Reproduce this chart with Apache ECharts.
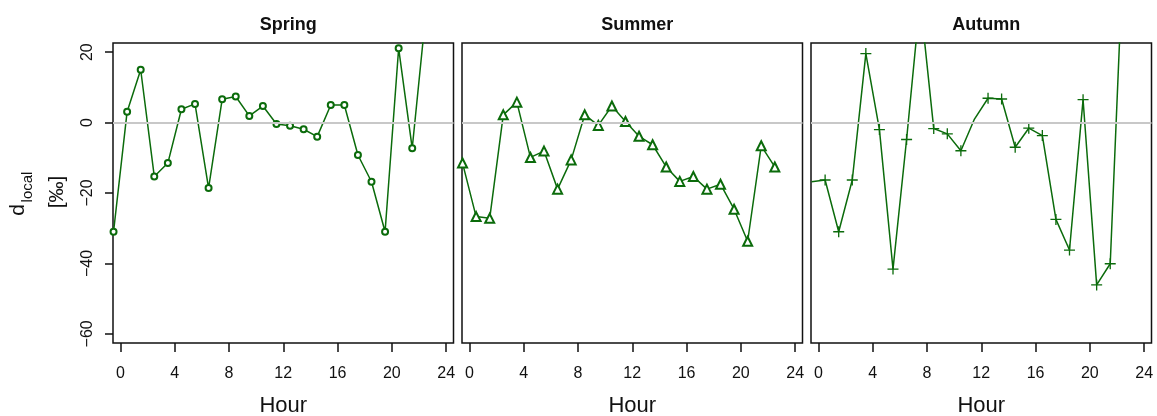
<!DOCTYPE html>
<html>
<head>
<meta charset="utf-8">
<script src="https://cdn.jsdelivr.net/npm/echarts@6/dist/echarts.min.js"></script>
<style>
html,body{margin:0;padding:0;background:#fff;}
#chart{width:1157px;height:416px;}
</style>
</head>
<body>
<div id="chart"></div>
<script>
// ---- data ----
const panelTitles = ['Spring', 'Summer', 'Autumn'];
const hours = [-0.5, 0.5, 1.5, 2.5, 3.5, 4.5, 5.5, 6.5, 7.5, 8.5, 9.5, 10.5, 11.5, 12.5, 13.5, 14.5, 15.5, 16.5, 17.5, 18.5, 19.5, 20.5, 21.5, 22.5];
const springValues = [-31.0, 3.1, 15.0, -15.3, -11.5, 3.8, 5.3, -18.6, 6.6, 7.4, 1.9, 4.7, -0.4, -0.9, -1.9, -4.0, 5.0, 5.0, -9.2, -16.8, -31.0, 21.1, -7.3, 31.0];
const summerValues = [-11.5, -26.7, -27.2, 2.2, 5.8, -9.9, -8.1, -18.9, -10.6, 2.2, -0.8, 4.7, 0.3, -3.9, -6.3, -12.6, -16.7, -15.3, -18.9, -17.5, -24.6, -33.7, -6.6, -12.6];
const autumnValues = [-16.8, -16.3, -31.0, -16.3, 19.6, -2.0, -41.6, -4.8, 35.0, -1.7, -3.2, -8.0, 1.0, 6.9, 6.7, -7.0, -1.6, -3.7, -27.5, -36.2, 6.5, -46.1, -40.1, 52.0];
const xTicks = [0, 4, 8, 12, 16, 20, 24];
const yTicks = [-60, -40, -20, 0, 20];
const xAxisTitle = 'Hour';

// ---- layout / style ----
const seriesValues = [springValues, summerValues, autumnValues];
const gridLefts = [113, 462, 811];
const gridWidth = 340.5;
const gridTop = 43;
const gridHeight = 300;
const green = '#0b6b0b';
const plusPath = 'path://M4.4,0h1.2v4.4h4.4v1.2h-4.4v4.4h-1.2v-4.4h-4.4v-1.2h4.4z';
const symbols = ['emptyCircle', 'emptyTriangle', plusPath];
const symbolSizes = [6, 9, 11];
const hiddenMarkerIdx = [[], [], [0, 12]];
const font = 'Liberation Sans, Arial, sans-serif';

const grids = [], xAxes = [], yAxes = [], series = [], titles = [];
for (let i = 0; i < 3; i++) {
  grids.push({left: gridLefts[i], top: gridTop, width: gridWidth, height: gridHeight,
    outerBoundsMode: 'none', containLabel: false,
    show: true, borderColor: '#111', borderWidth: 1.5, backgroundColor: 'transparent'});
  xAxes.push({type: 'value', gridIndex: i, min: -0.54, max: 24.54, position: 'bottom',
    axisLine: {show: false, onZero: false},
    splitLine: {show: false},
    axisTick: {show: true, customValues: xTicks, length: 9, lineStyle: {color: '#111', width: 1.5}},
    axisLabel: {customValues: xTicks, margin: 23, color: '#111', fontSize: 16, fontFamily: font},
    name: xAxisTitle, nameLocation: 'middle', nameGap: 52,
    nameTextStyle: {fontSize: 22, color: '#111', fontFamily: font}
  });
  yAxes.push({type: 'value', gridIndex: i, min: -62.6, max: 22.6, position: 'left',
    axisLine: {show: false, onZero: false},
    splitLine: {show: false},
    axisTick: {show: i === 0, customValues: yTicks, length: 8, lineStyle: {color: '#111', width: 1.5}},
    axisLabel: {show: i === 0, customValues: yTicks, rotate: 90, margin: 17, color: '#111', fontSize: 16, fontFamily: font,
      formatter: v => (v < 0 ? '\u2212' + Math.abs(v) : String(v))}
  });
  // zero reference line
  series.push({type: 'line', xAxisIndex: i, yAxisIndex: i, data: [], z: 1, silent: true,
    markLine: {silent: true, symbol: 'none', label: {show: false},
      lineStyle: {color: '#c8c8c8', width: 2, type: 'solid'},
      data: [{yAxis: 0}]}
  });
  const vals = seriesValues[i];
  series.push({type: 'line', xAxisIndex: i, yAxisIndex: i, z: 3, clip: true,
    data: hours.map((h, k) => {
      const d = {value: [h, vals[k]]};
      if (hiddenMarkerIdx[i].indexOf(k) >= 0) d.symbol = 'none';
      return d;
    }),
    symbol: symbols[i], symbolSize: symbolSizes[i], showAllSymbol: true,
    lineStyle: {color: green, width: 1.5},
    itemStyle: {color: green, borderWidth: i === 2 ? 0 : 1.5},
    animation: false
  });
  titles.push({text: panelTitles[i], left: gridLefts[i] + gridWidth / 2, top: 11, textAlign: 'center',
    textStyle: {fontSize: 18, fontWeight: 'bold', color: '#111', fontFamily: font}});
}

const chart = echarts.init(document.getElementById('chart'), null, {renderer: 'canvas'});
chart.setOption({
  animation: false,
  backgroundColor: '#fff',
  title: titles,
  grid: grids,
  xAxis: xAxes,
  yAxis: yAxes,
  series: series,
  graphic: [
    {type: 'text', x: 18, y: 210, rotation: Math.PI / 2,
      style: {text: 'd', fontSize: 21, fontFamily: font, fill: '#111', align: 'center', verticalAlign: 'middle'}},
    {type: 'text', x: 28, y: 187, rotation: Math.PI / 2,
      style: {text: 'local', fontSize: 15, fontFamily: font, fill: '#111', align: 'center', verticalAlign: 'middle'}},
    {type: 'text', x: 57, y: 192, rotation: Math.PI / 2,
      style: {text: '[\u2030]', fontSize: 21, fontFamily: font, fill: '#111', align: 'center', verticalAlign: 'middle'}}
  ]
});
</script>
</body>
</html>
